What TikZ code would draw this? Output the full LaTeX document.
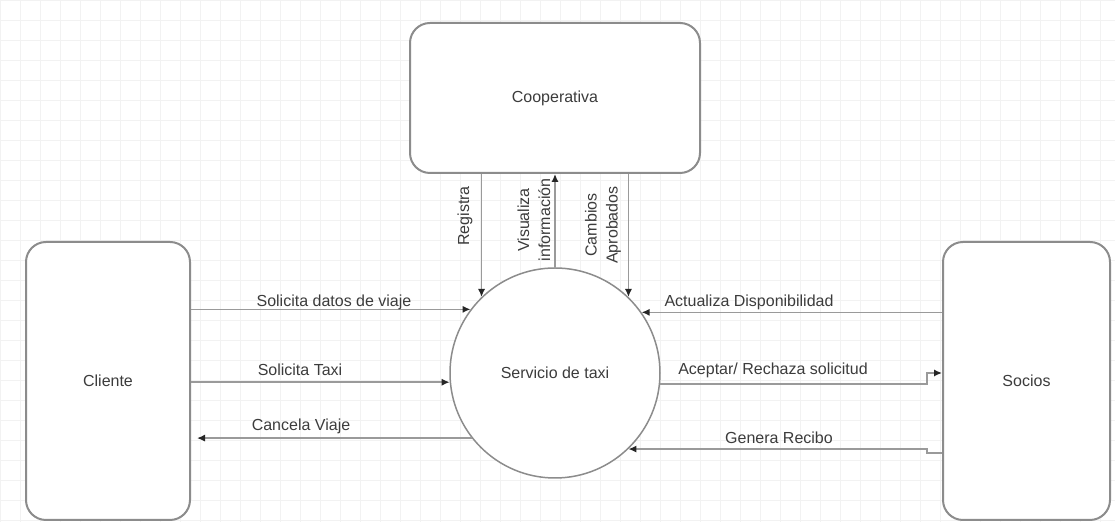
\documentclass[tikz,border=0pt]{standalone}
\usepackage{fontspec}
\setmainfont{Liberation Sans}
\usetikzlibrary{arrows.meta}

\definecolor{edge}{HTML}{8C8C8C}
\definecolor{wire}{HTML}{9A9A9A}
\definecolor{ink}{HTML}{3C3C3C}

\tikzset{
  entity/.style={draw=edge, line width=1pt, rounded corners=10pt, fill=white,
                 text=ink, font=\fontsize{8}{10.5}\selectfont},
  proc/.style={circle, draw=edge, line width=0.75pt, fill=white,
               minimum size=105pt, inner sep=0pt, text=ink,
               font=\fontsize{8}{10.5}\selectfont},
  flow/.style={draw=wire, line width=0.75pt,
               -{Latex[length=4pt,width=3.6pt,color=black!85]}},
  lbl/.style={text=ink, inner sep=1pt, font=\fontsize{8}{10.5}\selectfont},
  vlbl/.style={lbl, rotate=90, align=center},
}

\begin{document}
\begin{tikzpicture}[x=0.5pt, y=-0.5pt]
  \useasboundingbox (0,0) rectangle (1115,522);
  \fill[white] (0,0) rectangle (1115,522);

  % faint drawing grid
  \foreach \gx in {0,20,...,1100} \draw[black!5, line width=0.3pt] (\gx,0) -- (\gx,522);
  \foreach \gy in {0,20,...,520} \draw[black!5, line width=0.3pt] (0,\gy) -- (1115,\gy);

  % entities and process
  \node[entity, minimum width=145pt, minimum height=75pt] (coop) at (555,98) {Cooperativa};
  \node[entity, minimum width=82pt, minimum height=139pt] (cli) at (108,381) {Cliente};
  \node[entity, minimum width=83.5pt, minimum height=139pt] (soc) at (1026.5,381) {Socios};
  \node[proc] (serv) at (555,373) {Servicio de taxi};

  % flows between Cooperativa and the process
  \draw[flow] (serv.134.8 |- coop.south) -- (serv.134.8);
  \draw[flow] (serv.north) -- (serv.north |- coop.south);
  \draw[flow] (serv.46 |- coop.south) -- (serv.46);
  \node[vlbl] (lreg) at (465,216) {Registra};
  \node[vlbl] (lvis) at (534,220) {Visualiza\\información};
  \node[vlbl] (lcam) at (603,225) {Cambios\\Aprobados};

  % flows with Cliente
  \draw[flow] (cli.east |- serv.143.1) -- (serv.143.1);
  \draw[flow] (cli.east |- serv.185.5) -- (serv.185.5);
  \draw[flow, shorten >=3pt] (serv.218.2) -- (cli.east |- serv.218.2);
  \node[lbl] (lsd) at (334,302) {Solicita datos de viaje};
  \node[lbl] (lst) at (300,370) {Solicita Taxi};
  \node[lbl] (lcv) at (301,426) {Cancela Viaje};

  % flows with Socios
  \coordinate (aj) at (927,373);
  \coordinate (gj) at (927,453);
  \draw[flow] (soc.west |- serv.35.5) -- (serv.35.5);
  \draw[flow] (serv.354.5) -| (aj) -- (aj -| soc.west);
  \draw[flow] (gj -| soc.west) -- (gj) |- (serv.314.4);
  \node[lbl] (lad) at (749,302) {Actualiza Disponibilidad};
  \node[lbl] (lar) at (773,370) {Aceptar/ Rechaza solicitud};
  \node[lbl] (lgr) at (779,438) {Genera Recibo};
\end{tikzpicture}
\end{document}
